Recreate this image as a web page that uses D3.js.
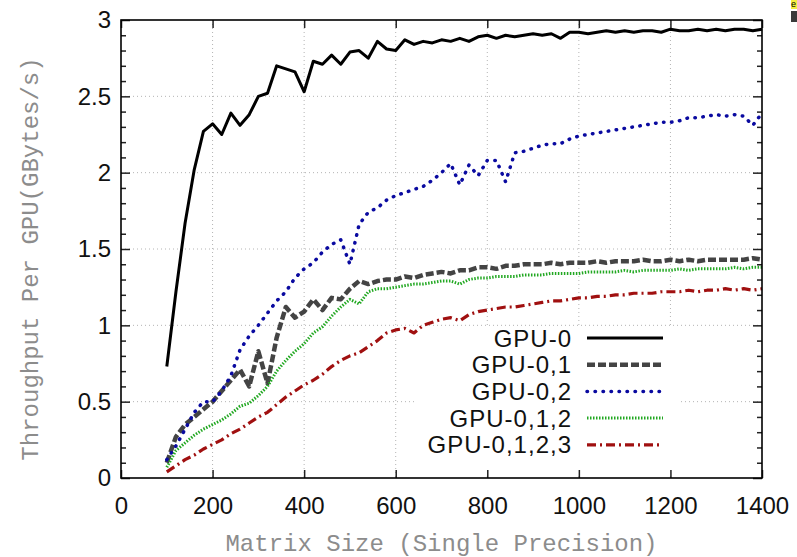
<!DOCTYPE html>
<html lang="en">
<head>
    <meta charset="UTF-8">
    <title>Throughput Per GPU</title>
    <script src="https://d3js.org/d3.v7.min.js"></script>
    <style>
        body {
            margin: 0;
            padding: 0;
            background-color: #ffffff;
            overflow: hidden;
        }

        svg {
            display: block;
        }

        .tick-label {
            font-family: "Liberation Sans", Arial, sans-serif;
            font-size: 24px;
            fill: #111;
        }

        .legend-label {
            font-family: "Liberation Sans", Arial, sans-serif;
            font-size: 24px;
            letter-spacing: 1px;
            fill: #111;
        }

        .axis-title {
            font-family: "Liberation Mono", "DejaVu Sans Mono", monospace;
            font-size: 24px;
            fill: #8c8c8c;
        }
    </style>
</head>
<body>
    <script>
        // Matrix sizes (x values)
        const sizes = [100, 120, 140, 160, 180, 200, 220, 240, 260, 280, 300, 320, 340, 360, 380, 400,
            420, 440, 460, 480, 500, 520, 540, 560, 580, 600, 620, 640, 660, 680, 700, 720, 740, 760,
            780, 800, 820, 840, 860, 880, 900, 920, 940, 960, 980, 1000, 1020, 1040, 1060, 1080, 1100,
            1120, 1140, 1160, 1180, 1200, 1220, 1240, 1260, 1280, 1300, 1320, 1340, 1360, 1380, 1400];

        // Throughput per GPU (GBytes/s)
        const gpu0 = [0.73, 1.22, 1.67, 2.02, 2.27, 2.32, 2.25, 2.39, 2.31, 2.38, 2.50, 2.52, 2.70, 2.68,
            2.66, 2.53, 2.73, 2.71, 2.77, 2.71, 2.79, 2.80, 2.75, 2.86, 2.81, 2.80, 2.87, 2.84, 2.86, 2.85,
            2.87, 2.86, 2.88, 2.86, 2.89, 2.90, 2.88, 2.90, 2.89, 2.90, 2.91, 2.90, 2.91, 2.88, 2.92, 2.92,
            2.91, 2.92, 2.93, 2.92, 2.93, 2.92, 2.93, 2.93, 2.92, 2.94, 2.93, 2.93, 2.94, 2.93, 2.94, 2.93,
            2.94, 2.94, 2.93, 2.94];

        const gpu01 = [0.10, 0.27, 0.35, 0.40, 0.45, 0.50, 0.57, 0.64, 0.71, 0.60, 0.83, 0.62, 0.92, 1.12,
            1.05, 1.09, 1.17, 1.10, 1.18, 1.17, 1.24, 1.29, 1.27, 1.29, 1.30, 1.30, 1.32, 1.31, 1.33, 1.34,
            1.35, 1.34, 1.36, 1.36, 1.38, 1.38, 1.37, 1.39, 1.39, 1.40, 1.40, 1.40, 1.41, 1.40, 1.41, 1.41,
            1.41, 1.42, 1.41, 1.42, 1.42, 1.42, 1.43, 1.42, 1.42, 1.43, 1.42, 1.43, 1.42, 1.43, 1.43, 1.43,
            1.43, 1.43, 1.44, 1.43];

        const gpu02 = [0.12, 0.21, 0.32, 0.43, 0.50, 0.50, 0.57, 0.67, 0.84, 0.93, 1.00, 1.08, 1.16, 1.22,
            1.31, 1.37, 1.41, 1.48, 1.53, 1.56, 1.40, 1.66, 1.74, 1.77, 1.82, 1.85, 1.87, 1.89, 1.91, 1.95,
            2.00, 2.06, 1.92, 2.05, 1.98, 2.08, 2.08, 1.94, 2.13, 2.14, 2.16, 2.18, 2.19, 2.19, 2.22, 2.24,
            2.25, 2.26, 2.27, 2.28, 2.29, 2.30, 2.31, 2.32, 2.33, 2.33, 2.34, 2.36, 2.36, 2.37, 2.38, 2.37,
            2.38, 2.37, 2.31, 2.39];

        const gpu012 = [0.07, 0.18, 0.23, 0.28, 0.32, 0.35, 0.38, 0.42, 0.47, 0.49, 0.54, 0.60, 0.70, 0.77,
            0.83, 0.88, 0.95, 0.99, 1.06, 1.12, 1.17, 1.14, 1.22, 1.24, 1.24, 1.25, 1.26, 1.27, 1.27, 1.28,
            1.29, 1.29, 1.27, 1.30, 1.31, 1.31, 1.32, 1.32, 1.32, 1.33, 1.33, 1.33, 1.34, 1.34, 1.34, 1.34,
            1.35, 1.35, 1.35, 1.35, 1.36, 1.35, 1.36, 1.36, 1.36, 1.36, 1.37, 1.36, 1.37, 1.37, 1.37, 1.37,
            1.38, 1.37, 1.38, 1.38];

        const gpu0123 = [0.04, 0.08, 0.12, 0.15, 0.19, 0.22, 0.25, 0.29, 0.32, 0.36, 0.40, 0.43, 0.48, 0.53,
            0.57, 0.61, 0.64, 0.68, 0.73, 0.77, 0.80, 0.82, 0.86, 0.90, 0.95, 0.97, 0.98, 0.95, 1.00, 1.02,
            1.04, 1.05, 1.03, 1.07, 1.09, 1.10, 1.11, 1.12, 1.12, 1.13, 1.14, 1.15, 1.16, 1.16, 1.17, 1.18,
            1.18, 1.19, 1.19, 1.20, 1.20, 1.21, 1.21, 1.21, 1.22, 1.22, 1.22, 1.23, 1.22, 1.23, 1.23, 1.24,
            1.23, 1.24, 1.23, 1.24];

        const seriesNames = ["GPU-0", "GPU-0,1", "GPU-0,2", "GPU-0,1,2", "GPU-0,1,2,3"];
        const seriesValues = [gpu0, gpu01, gpu02, gpu012, gpu0123];

        const xTicks = [0, 200, 400, 600, 800, 1000, 1200, 1400];
        const yTicks = [0, 0.5, 1, 1.5, 2, 2.5, 3];

        // line styles per series (gnuplot look)
        const styles = [
            { color: "#000000", width: 3, dash: null, cap: "butt" },
            { color: "#444444", width: 4.5, dash: "8,3", cap: "butt" },
            { color: "#0a0aa0", width: 3.5, dash: "0.5,7.5", cap: "round" },
            { color: "#22a822", width: 3, dash: "1.5,1.5", cap: "butt" },
            { color: "#a01010", width: 3.2, dash: "9,4,2,4", cap: "butt" }
        ];

        const width = 797;
        const height = 557;
        const plotLeft = 121, plotRight = 762, plotTop = 20, plotBottom = 478;

        const svg = d3.select("body").append("svg")
            .attr("width", width)
            .attr("height", height);

        const x = d3.scaleLinear().domain([0, 1400]).range([plotLeft, plotRight]);
        const y = d3.scaleLinear().domain([0, 3]).range([plotBottom, plotTop]);

        // dotted grid
        const grid = svg.append("g")
            .attr("stroke", "#b4b4b4")
            .attr("stroke-width", 1)
            .attr("stroke-dasharray", "1,3");

        grid.selectAll(".gx")
            .data(xTicks.slice(1, -1))
            .enter().append("line")
            .attr("x1", d => x(d)).attr("x2", d => x(d))
            .attr("y1", plotTop).attr("y2", plotBottom);

        grid.selectAll(".gy")
            .data(yTicks.slice(1, -1))
            .enter().append("line")
            .attr("x1", plotLeft).attr("x2", plotRight)
            .attr("y1", d => y(d)).attr("y2", d => y(d));

        // legend background hides the grid underneath
        svg.append("rect")
            .attr("x", 415).attr("y", 328)
            .attr("width", 265).attr("height", 146)
            .attr("fill", "#ffffff");

        // series lines
        const line = d3.line()
            .x((d, i) => x(sizes[i]))
            .y(d => y(d));

        seriesValues.forEach((vals, k) => {
            const st = styles[k];
            svg.append("path")
                .datum(vals)
                .attr("fill", "none")
                .attr("stroke", st.color)
                .attr("stroke-width", st.width)
                .attr("stroke-linecap", st.cap)
                .attr("stroke-linejoin", "round")
                .attr("stroke-dasharray", st.dash)
                .attr("d", line);
        });

        // axes with inward ticks
        const minorY = d3.range(0, 31).map(d => d / 10).filter(d => !yTicks.includes(d));

        svg.append("g")
            .attr("transform", `translate(0,${plotBottom})`)
            .call(d3.axisBottom(x).tickValues(xTicks).tickFormat(d3.format("d"))
                .tickSizeInner(-8).tickSizeOuter(0).tickPadding(19));

        svg.append("g")
            .attr("transform", `translate(${plotLeft},0)`)
            .call(d3.axisLeft(y).tickValues(yTicks).tickFormat(d3.format(""))
                .tickSizeInner(-9).tickSizeOuter(0).tickPadding(10));

        svg.append("g")
            .attr("transform", `translate(${plotRight},0)`)
            .call(d3.axisRight(y).tickValues(yTicks).tickFormat("").tickSizeInner(-9).tickSizeOuter(0));

        svg.append("g")
            .attr("transform", `translate(0,${plotTop})`)
            .call(d3.axisTop(x).tickValues(xTicks).tickFormat("").tickSizeInner(-8).tickSizeOuter(0));

        svg.append("g")
            .attr("transform", `translate(${plotLeft},0)`)
            .call(d3.axisLeft(y).tickValues(minorY).tickFormat("").tickSizeInner(-5).tickSizeOuter(0));

        svg.append("g")
            .attr("transform", `translate(${plotRight},0)`)
            .call(d3.axisRight(y).tickValues(minorY).tickFormat("").tickSizeInner(-5).tickSizeOuter(0));

        svg.selectAll(".domain").remove();
        svg.selectAll(".tick line").attr("stroke", "#222").attr("stroke-width", 1.5);
        svg.selectAll(".tick text")
            .attr("class", "tick-label")
            .attr("font-family", null)
            .attr("font-size", null)
            .attr("fill", null);

        // plot frame
        svg.append("rect")
            .attr("x", plotLeft).attr("y", plotTop)
            .attr("width", plotRight - plotLeft).attr("height", plotBottom - plotTop)
            .attr("fill", "none")
            .attr("stroke", "#000")
            .attr("stroke-width", 1.6);

        // axis titles
        svg.append("text")
            .attr("class", "axis-title")
            .attr("x", (plotLeft + plotRight) / 2)
            .attr("y", 551)
            .attr("text-anchor", "middle")
            .text("Matrix Size (Single Precision)");

        svg.append("text")
            .attr("class", "axis-title")
            .attr("transform", `translate(38,${(plotTop + plotBottom) / 2 + 10}) rotate(-90)`)
            .attr("text-anchor", "middle")
            .text("Throughput Per GPU(GBytes/s)");

        // legend
        const legend = svg.append("g");
        seriesNames.forEach((name, k) => {
            const cy = 338 + k * 26.7;
            const st = styles[k];
            legend.append("text")
                .attr("class", "legend-label")
                .attr("x", 572)
                .attr("y", cy)
                .attr("dy", "0.36em")
                .attr("text-anchor", "end")
                .text(name);
            legend.append("line")
                .attr("x1", 587).attr("x2", 663)
                .attr("y1", cy).attr("y2", cy)
                .attr("stroke", st.color)
                .attr("stroke-width", st.width)
                .attr("stroke-linecap", st.cap)
                .attr("stroke-dasharray", st.dash);
        });

        // cropped-off fragment at top right corner of the source image
        svg.append("rect").attr("x", 791).attr("y", 0).attr("width", 6).attr("height", 9).attr("fill", "#f4ee40");
        svg.append("text").attr("x", 791).attr("y", 7).attr("font-size", 9)
            .attr("font-family", "Liberation Sans, sans-serif").text("e");
        svg.append("rect").attr("x", 791).attr("y", 11).attr("width", 6).attr("height", 11).attr("fill", "#3a3a3a");
    </script>
</body>
</html>
